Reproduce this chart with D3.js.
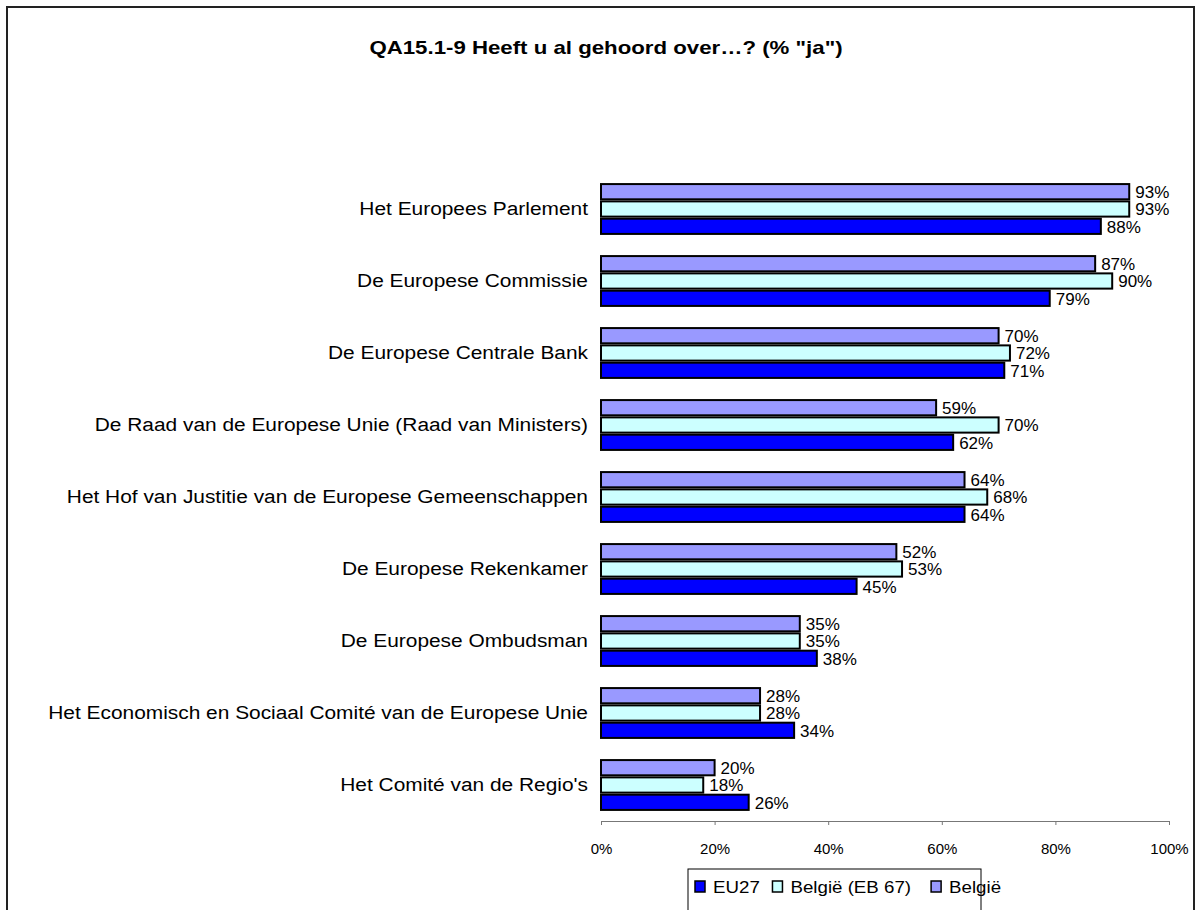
<!DOCTYPE html>
<html>
<head>
<meta charset="utf-8">
<script src="https://cdn.jsdelivr.net/npm/d3@7"></script>
<style>
    body { margin: 0; background: #fff; }
    svg { display: block; font-family: "Liberation Sans", Arial, sans-serif; }
</style>
</head>
<body>
<div id="chart"></div>
<script>
// Data
const categories = [
    "Het Europees Parlement",
    "De Europese Commissie ",
    "De Europese Centrale Bank",
    "De Raad van de Europese Unie (Raad van Ministers)",
    "Het Hof van Justitie van de Europese Gemeenschappen",
    "De Europese Rekenkamer",
    "De Europese Ombudsman",
    "Het Economisch en Sociaal Comité van de Europese Unie",
    "Het Comité van de Regio's"
];
const belgie = [93, 87, 70, 59, 64, 52, 35, 28, 20];
const belgieEB67 = [93, 90, 72, 70, 68, 53, 35, 28, 18];
const eu27 = [88, 79, 71, 62, 64, 45, 38, 34, 26];
const xTicks = [0, 20, 40, 60, 80, 100];

const series = [
    { key: "België", values: belgie, color: "#9999ff" },
    { key: "België (EB 67)", values: belgieEB67, color: "#ccffff" },
    { key: "EU27", values: eu27, color: "#0000ff" }
];
const legendOrder = ["EU27", "België (EB 67)", "België"];

const width = 1196, height = 910;
const svg = d3.select("#chart").append("svg")
    .attr("width", width)
    .attr("height", height);

// the original text is rendered wider than Liberation Sans, stretch a bit
function stretch(sel, f) {
    sel.each(function () {
        const len = this.getComputedTextLength();
        d3.select(this)
            .attr("textLength", len * f)
            .attr("lengthAdjust", "spacingAndGlyphs");
    });
}

// Outer frame
svg.append("rect")
    .attr("x", 7).attr("y", 7)
    .attr("width", 1187).attr("height", 920)
    .attr("fill", "none")
    .attr("stroke", "#222")
    .attr("stroke-width", 2);

// Title
svg.append("text")
    .attr("x", 606).attr("y", 54)
    .attr("text-anchor", "middle")
    .style("font-size", "19px")
    .style("font-weight", "bold")
    .text("QA15.1-9 Heeft u al gehoord over…? (% \"ja\")")
    .call(stretch, 1.17);

const x = d3.scaleLinear().domain([0, 100]).range([601, 1169]);
const y = d3.scaleBand().domain(categories).range([173, 821]).paddingInner(0.25).paddingOuter(0.125);
const ySub = d3.scaleBand().domain(series.map(s => s.key)).range([0, y.bandwidth()]).padding(0.12);

// Category labels
svg.append("g")
    .selectAll("text")
    .data(categories)
    .join("text")
    .attr("x", 588)
    .attr("y", d => y(d) + y.bandwidth() / 2)
    .attr("dy", "0.35em")
    .attr("text-anchor", "end")
    .style("font-size", "18px")
    .text(d => d)
    .call(stretch, 1.16);

// Bars
series.forEach(s => {
    const g = svg.append("g");
    g.selectAll("rect")
        .data(categories)
        .join("rect")
        .attr("x", x(0))
        .attr("y", d => y(d) + ySub(s.key))
        .attr("width", (d, i) => x(s.values[i]) - x(0))
        .attr("height", ySub.bandwidth())
        .attr("fill", s.color)
        .attr("stroke", "#000")
        .attr("stroke-width", 2);

    g.selectAll("text")
        .data(categories)
        .join("text")
        .attr("x", (d, i) => x(s.values[i]) + 6)
        .attr("y", d => y(d) + ySub(s.key) + ySub.bandwidth() / 2)
        .attr("dy", "0.37em")
        .style("font-size", "17px")
        .text((d, i) => s.values[i] + "%");
});

// X axis
const axis = svg.append("g")
    .attr("transform", "translate(0,821)")
    .call(d3.axisBottom(x).tickValues(xTicks).tickSize(4).tickFormat(d => d + "%"));
axis.select(".domain").attr("stroke", "#777");
axis.selectAll(".tick line").attr("stroke", "#777");
axis.selectAll(".tick text")
    .attr("y", 22)
    .style("font-size", "15px")
    .style("font-family", "\"Liberation Sans\", Arial, sans-serif")
    .attr("fill", "#000");

// Legend
const legend = svg.append("g");
legend.append("rect")
    .attr("x", 688).attr("y", 869)
    .attr("width", 293).attr("height", 60)
    .attr("fill", "#fff")
    .attr("stroke", "#000")
    .attr("stroke-width", 1);

let lx = 695;
legendOrder.forEach(k => {
    const s = series.find(d => d.key === k);
    legend.append("rect")
        .attr("x", lx).attr("y", 881)
        .attr("width", 10).attr("height", 11)
        .attr("fill", s.color)
        .attr("stroke", "#000")
        .attr("stroke-width", 1.5);
    const t = legend.append("text")
        .attr("x", lx + 18).attr("y", 887)
        .attr("dy", "0.35em")
        .style("font-size", "17px")
        .text(k)
        .call(stretch, 1.1);
    lx += 18 + t.node().getComputedTextLength() * 1.1 + 8;
});
</script>
</body>
</html>
